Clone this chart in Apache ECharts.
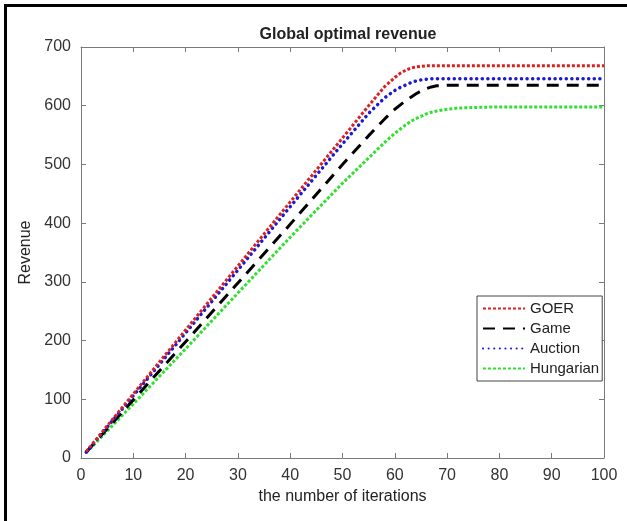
<!DOCTYPE html>
<html>
<head>
<meta charset="utf-8">
<script src="https://cdn.jsdelivr.net/npm/echarts@6/dist/echarts.min.js"></script>
<style>
  html, body { margin: 0; padding: 0; background: #fff; }
  #chart-container { width: 627px; height: 521px; position: relative; }
  #frame { position: absolute; left: 4px; top: 4px; right: 0; bottom: 0;
           border-top: 3px solid #000; border-left: 3px solid #000; pointer-events: none; }
</style>
</head>
<body>
<div id="chart-container"></div>
<div id="frame"></div>
<script>
// iterations sampled along the curves (denser around the bend)
var iters = [1, 10, 20, 30, 40, 50, 55, 58, 60, 61, 62, 63, 64, 65, 66, 67, 68, 70, 72, 75, 80, 90, 100];

var goer      = [11, 109, 218, 327, 436, 545, 600, 632, 648, 655, 660, 664, 666, 667, 668, 668, 668, 668, 668, 668, 668, 668, 668];
var game      = [10, 99, 198, 298, 398, 500, 549, 577, 594, 601, 608, 614, 620, 625, 629, 632, 634, 635, 635, 635, 635, 635, 635];
var auction   = [10, 106, 213, 320, 428, 535, 587, 613, 626, 631, 635, 639, 642, 644, 645, 646, 646, 646, 646, 646, 646, 646, 646];
var hungarian = [9, 92, 186, 281, 376, 468, 511, 537, 553, 560, 567, 573, 578, 582, 586, 589, 591, 594, 596, 597, 598, 598, 598];

var seriesNames = ['GOER', 'Game', 'Auction', 'Hungarian'];

function pairs(vals) {
  return iters.map(function (x, i) { return [x, vals[i]]; });
}

var dom = document.getElementById('chart-container');
var myChart = echarts.init(dom, null, { renderer: 'canvas' });

var font = 'Liberation Sans, Arial, sans-serif';
var axisCol = '#7a7a7a';

function axisBase(show) {
  return {
    axisLine: { show: true, onZero: false, lineStyle: { color: axisCol, width: 1 } },
    axisTick: { show: true, inside: true, length: 5, lineStyle: { color: axisCol } },
    axisLabel: { show: show, color: '#333', fontSize: 16, fontFamily: font, margin: 10 },
    splitLine: { show: false }
  };
}

var option = {
  animation: false,
  title: {
    text: 'Global optimal revenue',
    left: 343,
    textAlign: 'center',
    top: 22,
    textStyle: { fontSize: 16, fontWeight: 'bold', color: '#222', fontFamily: font }
  },
  legend: {
    data: seriesNames,
    orient: 'vertical',
    left: 477,
    top: 296,
    itemWidth: 42,
    itemHeight: 10,
    itemGap: 5,
    padding: [5, 3, 5, 5],
    borderColor: '#444',
    borderWidth: 1,
    borderRadius: 0,
    backgroundColor: '#fff',
    itemStyle: { opacity: 0 },
    textStyle: { fontSize: 15, color: '#222', fontFamily: font }
  },
  grid: { left: 81, right: 23, top: 47, bottom: 63, containLabel: false },
  xAxis: [
    Object.assign(axisBase(true), {
      type: 'value', min: 0, max: 100, interval: 10, position: 'bottom',
      name: 'the number of iterations', nameLocation: 'middle', nameGap: 28,
      nameTextStyle: { fontSize: 16, color: '#222', fontFamily: font }
    }),
    Object.assign(axisBase(false), {
      type: 'value', min: 0, max: 100, interval: 10, position: 'top'
    })
  ],
  yAxis: [
    Object.assign(axisBase(true), {
      type: 'value', min: 0, max: 700, interval: 100, position: 'left',
      name: 'Revenue', nameLocation: 'middle', nameGap: 40,
      nameTextStyle: { fontSize: 16, color: '#222', fontFamily: font }
    }),
    Object.assign(axisBase(false), {
      type: 'value', min: 0, max: 700, interval: 100, position: 'right'
    })
  ],
  series: [
    {
      name: 'Hungarian', type: 'line', symbol: 'none',
      data: pairs(hungarian), z: 2,
      itemStyle: { color: '#2fe02f' },
      lineStyle: { color: '#2fe02f', width: 3, type: [3, 2] }
    },
    {
      name: 'Game', type: 'line', symbol: 'none',
      data: pairs(game), z: 3,
      itemStyle: { color: '#000' },
      lineStyle: { color: '#000', width: 3, type: [12, 8] }
    },
    {
      name: 'Auction', type: 'line', symbol: 'none',
      data: pairs(auction), z: 4,
      itemStyle: { color: '#1a1ad6' },
      lineStyle: { color: '#1a1ad6', width: 3.5, type: [0.1, 5.5], cap: 'round' }
    },
    {
      name: 'GOER', type: 'line', symbol: 'none',
      data: pairs(goer), z: 5,
      itemStyle: { color: '#dc2020' },
      lineStyle: { color: '#dc2020', width: 3, type: [3, 2] }
    }
  ]
};

myChart.setOption(option);
window.addEventListener('resize', myChart.resize);
</script>
</body>
</html>
